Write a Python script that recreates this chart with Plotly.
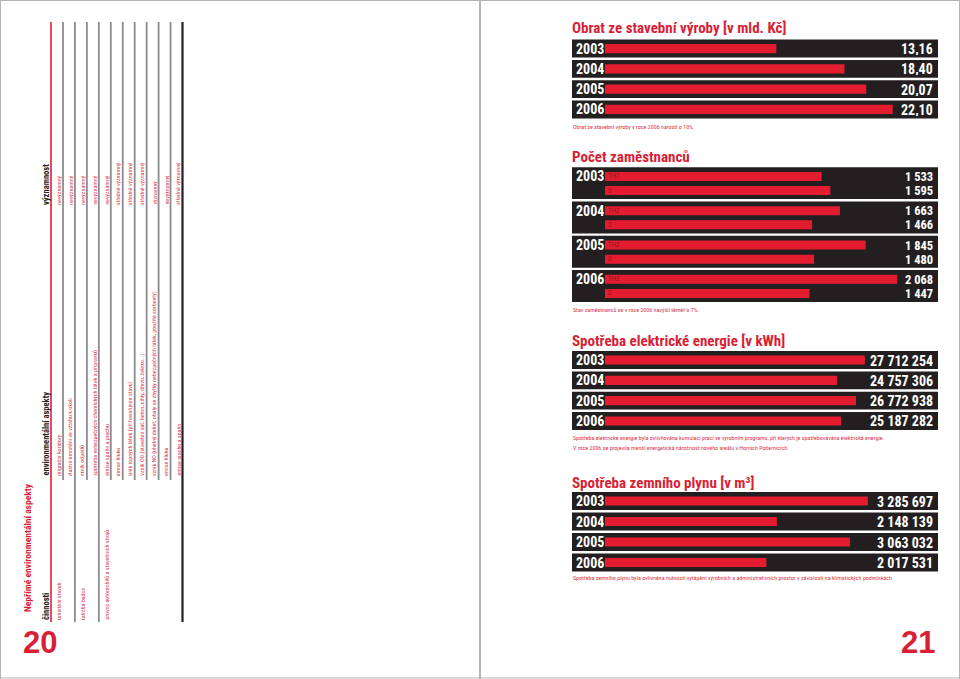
import plotly.graph_objects as go

W, H = 960, 679

# ---------------- data ----------------
years = ["2003", "2004", "2005", "2006"]

turnover_title = "Obrat ze stavební výroby [v mld. Kč]"
turnover = [13.16, 18.40, 20.07, 22.10]
turnover_note = ["Obrat ze stavební výroby v roce 2006 narostl o 10%."]

staff_title = "Počet zaměstnanců"
staff_groups = ["THZ", "D"]
staff_thz = [1533, 1663, 1845, 2068]
staff_d = [1595, 1466, 1480, 1447]
staff_note = ["Stav zaměstnanců se v roce 2006 navýšil téměř o 7%."]

power_title = "Spotřeba elektrické energie [v kWh]"
power = [27712254, 24757306, 26772938, 25187282]
power_note = [
    "Spotřeba elektrické energie byla ovlivňována kumulací prací ve výrobním programu, při kterých je spotřebovávána elektrická energie.",
    "V roce 2006 se projevila menší energetická náročnost nového areálu v Horních Počernicích.",
]

gas_title = "Spotřeba zemního plynu [v m³]"
gas = [3285697, 2148139, 3063032, 2017531]
gas_note = ["Spotřeba zemního plynu byla ovlivněna nutností vytápění výrobních a administrativních prostor v závislosti na klimatických podmínkách"]

table_title = "Nepřímé environmentální aspekty"
table_headers = ["činnosti", "environmentální aspekty", "významnost"]
activities = ["umístění staveb", "", "údržba budov", "", "provoz automobilů a stavebních strojů",
              "", "", "", "", "", ""]
aspects = [
    "migrační koridory",
    "vlastní umístění ve vztahu k okolí",
    "vznik odpadů",
    "spotřeba nebezpečných chemických látek a přípravků",
    "emise spalin a prachu",
    "emise hluku",
    "únik ropných látek (při havarijním stavu)",
    "vznik OO (stavební suť, beton, cihly, dřevo, železo...)",
    "vznik NO (uhelný dehet, obaly se zbytky nebezpečných látek, použité sorbenty)",
    "emise hluku",
    "emise prachu a spalin",
]
significance = [
    "nevýznamný", "nevýznamný", "nevýznamný", "nevýznamný", "nevýznamný",
    "středně významný", "středně významný", "středně významný", "významný",
    "nevýznamný", "středně významný",
]
group_ends = [1, 3]          # rows after which a full-width separator is drawn
page_numbers = ["20", "21"]

# ---------------- style ----------------
BLACK = "#231f20"
RED = "#e31d2f"
TITLE_RED = "#d81f36"
NOTE_RED = "#d8344c"
GRAY = "#8c8c8c"
NARROW = "Liberation Sans Narrow, Arial Narrow, Roboto Condensed, DejaVu Sans Condensed, sans-serif"
WIDE = "Liberation Sans, Arial, Helvetica, sans-serif"


def xp(px):
    return px / W


def yp(py):
    return 1 - py / H


def fmt_space(v):
    return f"{v:,}".replace(",", " ")


def fmt_dec(v):
    return f"{v:.2f}".replace(".", ",")


fig = go.Figure()
shapes = []
annotations = []

X0, X1, ZERO = 572, 938, 605
LEFT_FRAC = (ZERO - X0) / (X1 - ZERO)

panels = [
    dict(title=turnover_title, title_y=28.5, top=38.4, bottom=119.6, rmax=25.58,
         series=[turnover], labels=[[fmt_dec(v) for v in turnover]], offsets=[0.0],
         barw=0.46, strip=0.44, notes=turnover_note, note_y=[126.7], fs=14),
    dict(title=staff_title, title_y=157, top=166.0, bottom=303.2, rmax=2357,
         series=[staff_thz, staff_d],
         labels=[[fmt_space(v) for v in staff_thz], [fmt_space(v) for v in staff_d]],
         offsets=[-0.196, 0.216], barw=0.262, strip=0.465, notes=staff_note, note_y=[309.3],
         group_names=staff_groups, fs=12.5),
    dict(title=power_title, title_y=341, top=349.9, bottom=431.1, rmax=35.52e6,
         series=[power], labels=[[fmt_space(v) for v in power]], offsets=[0.0],
         barw=0.45, strip=0.44, notes=power_note, note_y=[437.7, 447.0], fs=14),
    dict(title=gas_title, title_y=483, top=490.8, bottom=572.8, rmax=4.1625e6,
         series=[gas], labels=[[fmt_space(v) for v in gas]], offsets=[0.0],
         barw=0.44, strip=0.44, notes=gas_note, note_y=[577.7], fs=14),
]

layout_axes = {}
for n, p in enumerate(panels, start=1):
    sfx = "" if n == 1 else str(n)
    xa, ya = "x" + sfx, "y" + sfx
    layout_axes["xaxis" + sfx] = dict(domain=[xp(X0), xp(X1)], range=[-p["rmax"] * LEFT_FRAC, p["rmax"]],
                                      visible=False, fixedrange=True, anchor=ya)
    layout_axes["yaxis" + sfx] = dict(domain=[yp(p["bottom"]), yp(p["top"])], range=[3.5, -0.5],
                                      type="category", visible=False, fixedrange=True, anchor=xa)
    # black strips behind each year
    for i in range(len(years)):
        shapes.append(dict(type="rect", xref=xa + " domain", yref=ya, x0=0, x1=1,
                           y0=i - p["strip"], y1=i + p["strip"], fillcolor=BLACK,
                           line=dict(width=0), layer="below"))
    for k, (vals, labs, off) in enumerate(zip(p["series"], p["labels"], p["offsets"])):
        fig.add_trace(go.Bar(x=vals, y=years, orientation="h", width=p["barw"],
                             offset=off - p["barw"] / 2, marker=dict(color=RED, line=dict(width=0)),
                             xaxis=xa, yaxis=ya, showlegend=False, hoverinfo="skip"))
        for i, lab in enumerate(labs):
            annotations.append(dict(xref=xa + " domain", yref=ya, x=0.993, y=i + off,
                                    xanchor="right", yanchor="middle", showarrow=False,
                                    text="<b>" + lab + "</b>", height=13,
                                    font=dict(family=NARROW, size=p["fs"], color="white")))
            if "group_names" in p:
                annotations.append(dict(xref=xa, yref=ya, x=0, y=i + off, xanchor="left",
                                        yanchor="middle", showarrow=False, xshift=1,
                                        text=p["group_names"][k], height=8,
                                        font=dict(family=NARROW, size=7, color="#8e1826")))
    for i, yr in enumerate(years):
        annotations.append(dict(xref=xa + " domain", yref=ya, x=0.006, y=i + p["offsets"][0],
                                xanchor="left", yanchor="middle", showarrow=False,
                                text="<b>" + yr + "</b>", height=14,
                                font=dict(family=NARROW, size=14, color="white")))
    annotations.append(dict(xref="paper", yref="paper", x=xp(570), y=yp(p["title_y"]),
                            xanchor="left", yanchor="middle", showarrow=False,
                            text="<b>" + p["title"] + "</b>",
                            font=dict(family=NARROW, size=15, color=TITLE_RED)))
    for note, ny in zip(p["notes"], p["note_y"]):
        annotations.append(dict(xref="paper", yref="paper", x=xp(571), y=yp(ny),
                                xanchor="left", yanchor="middle", showarrow=False, text=note,
                                font=dict(family=NARROW, size=6, color=NOTE_RED)))

# ---------------- left page: rotated table ----------------
HEAD_LINE = 51
ROW0, PITCH = 63, 11.95
TOP, COL_ACT, COL_ASP, COL_SIG = 22, 622, 478, 207

shapes.append(dict(type="line", xref="paper", yref="paper", x0=xp(HEAD_LINE), x1=xp(HEAD_LINE),
                   y0=yp(TOP), y1=yp(COL_ACT), line=dict(color=RED, width=1.6)))
n_rows = len(aspects)
for r in range(n_rows):
    lx = ROW0 + r * PITCH
    full = (r in group_ends) or (r == n_rows - 1)
    shapes.append(dict(type="line", xref="paper", yref="paper", x0=xp(lx), x1=xp(lx),
                       y0=yp(TOP), y1=yp(COL_ACT if full else COL_ASP + 2),
                       line=dict(color=BLACK if r == n_rows - 1 else GRAY,
                                 width=2.2 if r == n_rows - 1 else 1.8)))
    cx = lx - 5
    for txt, start in ((activities[r], COL_ACT), (aspects[r], COL_ASP), (significance[r], COL_SIG)):
        if txt:
            annotations.append(dict(xref="paper", yref="paper", x=xp(cx), y=yp(start),
                                    xanchor="center", yanchor="bottom", showarrow=False,
                                    textangle=-90, text=txt,
                                    font=dict(family=NARROW, size=6, color=NOTE_RED)))

for txt, start in zip(table_headers, (COL_ACT, COL_ASP, COL_SIG)):
    annotations.append(dict(xref="paper", yref="paper", x=xp(45.5), y=yp(start),
                            xanchor="center", yanchor="bottom", showarrow=False, textangle=-90,
                            text="<b>" + txt + "</b>",
                            font=dict(family=NARROW, size=8.5, color=BLACK)))

annotations.append(dict(xref="paper", yref="paper", x=xp(27.5), y=yp(614),
                        xanchor="center", yanchor="bottom", showarrow=False, textangle=-90,
                        text="<b>" + table_title + "</b>",
                        font=dict(family=NARROW, size=9.5, color=TITLE_RED)))

for txt, cx in zip(page_numbers, (40, 917.5)):
    annotations.append(dict(xref="paper", yref="paper", x=xp(cx), y=yp(642), xanchor="center",
                            yanchor="middle", showarrow=False, text="<b>" + txt + "</b>",
                            font=dict(family=WIDE, size=31, color=TITLE_RED)))

# page frame
FRAME = "#b4b4b4"
for x0, y0, x1, y1 in ((0, 0.5, W, 0.5), (0, 678, W, 678), (0.5, 0, 0.5, H),
                       (959.5, 0, 959.5, H), (480, 0, 480, H)):
    shapes.append(dict(type="line", xref="paper", yref="paper", x0=xp(x0), x1=xp(x1),
                       y0=yp(y0), y1=yp(y1), line=dict(color=FRAME, width=2 if x0 == 480 else 1)))

fig.update_layout(width=W, height=H, margin=dict(l=0, r=0, t=0, b=0),
                  paper_bgcolor="white", plot_bgcolor="rgba(0,0,0,0)",
                  barmode="overlay", shapes=shapes, annotations=annotations, **layout_axes)

fig.write_html("out.html", config=dict(displayModeBar=False))
